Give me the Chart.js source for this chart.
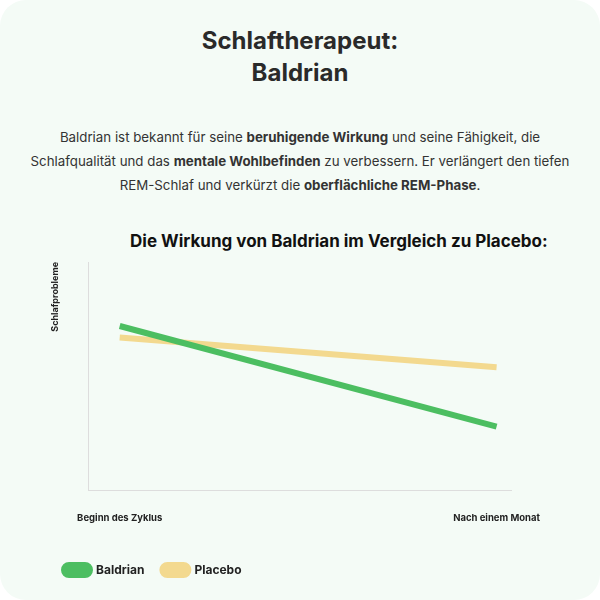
<!DOCTYPE html>
<html><head><meta charset="utf-8">
<script src="https://cdn.jsdelivr.net/npm/chart.js@4"></script>
<style>
html,body{margin:0;padding:0;background:#fff;}
#card{position:absolute;left:0;top:0;width:600px;height:600px;background:#f4fbf6;border-radius:26px;font-family:Inter,"Noto Sans",sans-serif;color:#222;}
h1{position:absolute;top:25px;left:0;width:600px;margin:0;text-align:center;font-size:24px;line-height:32px;font-weight:700;color:#2a2a2a;}
p{position:absolute;top:125px;left:0;width:600px;margin:0;text-align:center;font-size:13.3px;line-height:24px;color:#333;white-space:nowrap;}
h2{position:absolute;top:231px;left:130px;width:400px;margin:0;text-align:center;font-size:17px;font-weight:700;color:#111;white-space:nowrap;}
#wrap{position:absolute;left:46px;top:258px;width:516px;height:328px;}
</style></head><body>
<div id="card">
<h1>Schlaftherapeut:<br>Baldrian</h1>
<p>Baldrian ist bekannt für seine <b>beruhigende Wirkung</b> und seine Fähigkeit, die<br>Schlafqualität und das <b>mentale Wohlbefinden</b> zu verbessern. Er verlängert den tiefen<br>REM-Schlaf und verkürzt die <b>oberflächliche REM-Phase</b>.</p>
<h2>Die Wirkung von Baldrian im Vergleich zu Placebo:</h2>
<div id="wrap"><canvas id="c"></canvas></div>
</div>
<script>
const categories = ["Beginn des Zyklus", "Nach einem Monat"];
const baldrian = [7.2, 2.8];
const placebo = [6.7, 5.4];
const seriesNames = ["Baldrian", "Placebo"];
const toPts = a => a.map((v,i)=>({x:i,y:v}));
new Chart(document.getElementById('c'), {
  type:'line',
  data:{datasets:[
    {label:seriesNames[0],data:toPts(baldrian),borderColor:'#4cbe61',backgroundColor:'#4cbe61',borderWidth:6,pointRadius:0},
    {label:seriesNames[1],data:toPts(placebo),borderColor:'#f3d98f',backgroundColor:'#f3d98f',borderWidth:6,pointRadius:0}
  ]},
  options:{responsive:true,maintainAspectRatio:false,animation:false,
    layout:{padding:{top:4,left:0,right:0,bottom:0}},
    plugins:{
      title:{display:false},
      legend:{position:'bottom',align:'start',labels:{boxWidth:26,boxHeight:10,useBorderRadius:true,borderRadius:5,color:'#222',font:{family:'Inter',size:12,weight:'bold'},padding:18}},
      tooltip:{enabled:false}
    },
    scales:{
      x:{type:'linear',min:-0.082,max:1.04,
        afterBuildTicks:s=>{s.ticks=[{value:0},{value:1}];},
        ticks:{callback:v=>categories[v],color:'#222',font:{family:'Inter',size:9.5,weight:'bold'},maxRotation:0,padding:22},
        grid:{display:false,drawTicks:false},border:{color:'#ddd'}},
      y:{min:0,max:10,ticks:{display:false},grid:{display:false},border:{color:'#ddd'},
        title:{display:true,text:'Schlafprobleme',align:'end',color:'#222',font:{family:'Inter',size:9,weight:'bold'},padding:{bottom:20}}}
    }
  }
});
</script>
</body></html>
